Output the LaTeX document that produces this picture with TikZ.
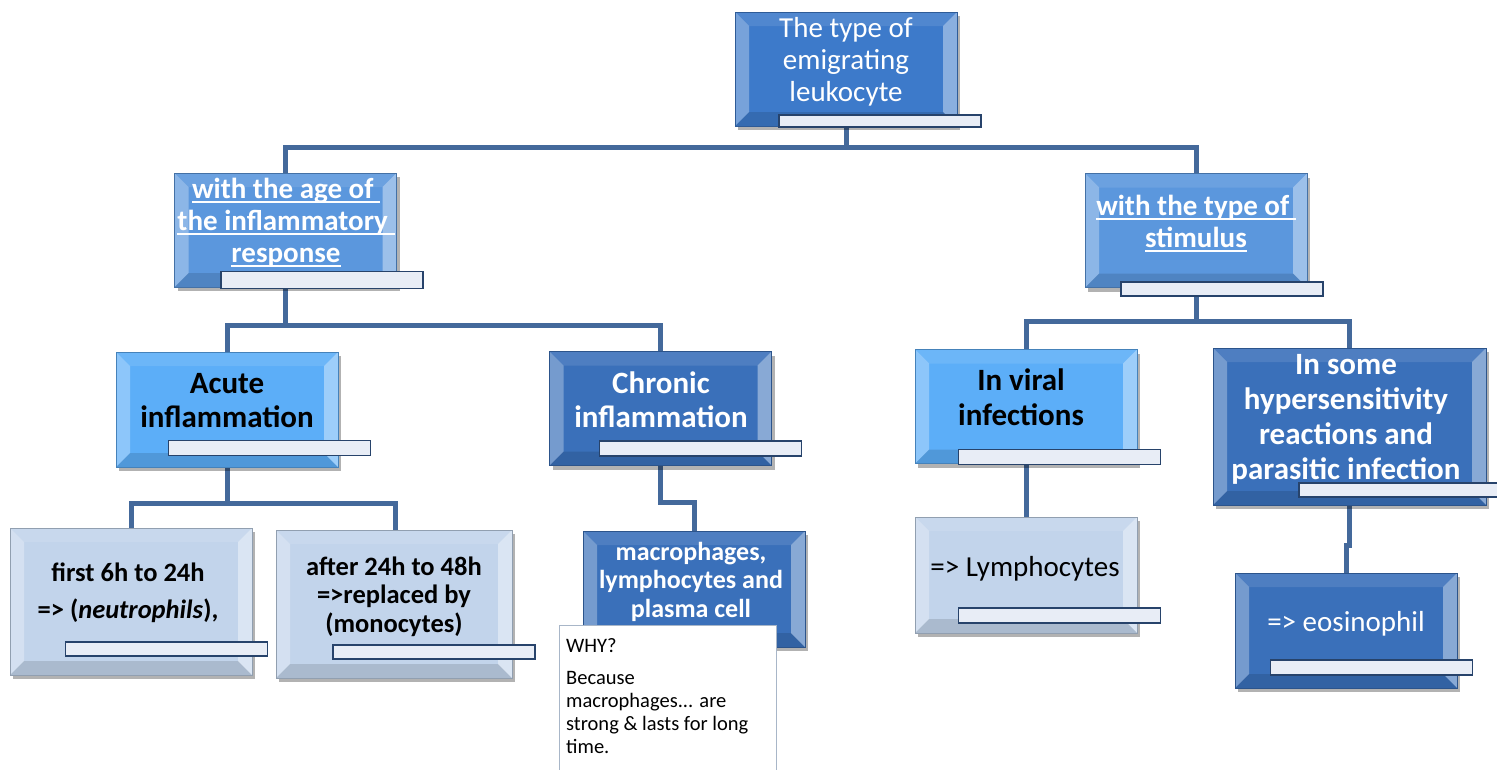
\documentclass[tikz,border=0pt]{standalone}
\usepackage{fontspec}
\setmainfont{Carlito}
\usetikzlibrary{shadows,backgrounds}
\definecolor{cTop}{HTML}{3D7ACA}
\definecolor{cMid}{HTML}{5B97DD}
\definecolor{cLight}{HTML}{5CAEF8}
\definecolor{cDark}{HTML}{3A70BA}
\definecolor{cPale}{HTML}{C2D4EB}
\definecolor{cLine}{HTML}{44699B}
\definecolor{cBarEdge}{HTML}{27436B}
\definecolor{cBar}{HTML}{E8EDF6}
\definecolor{cWhyEdge}{HTML}{A8B6C8}
\newcommand{\ulin}[1]{\setbox0=\hbox{#1}\rlap{\rule[-5pt]{\wd0}{2pt}}\box0}
\tikzset{
  bevel/.style={path picture={
    \path (path picture bounding box.south west) coordinate (bvA)
          (path picture bounding box.north east) coordinate (bvC);
    \path (bvA) ++(14pt,14pt) coordinate (bva);
    \path (bvC) ++(-14pt,-14pt) coordinate (bvc);
    \fill[white,opacity=0.3] (bvA) -- (bva) -- (bva|-bvc) -- (bvA|-bvC) -- cycle;
    \fill[white,opacity=0.4] (bvC) -- (bvc) -- (bvc|-bva) -- (bvC|-bvA) -- cycle;
    \fill[white,opacity=0.1] (bvA|-bvC) -- (bva|-bvc) -- (bvc) -- (bvC) -- cycle;
    \fill[black,opacity=0.12] (bvA) -- (bva) -- (bvc|-bva) -- (bvC|-bvA) -- cycle;
  }},
  box/.style={rectangle, inner sep=0pt, minimum width=222pt, minimum height=114pt,
    fill=#1, draw=#1!75!black, line width=0.6pt, bevel,
    drop shadow={shadow xshift=3pt, shadow yshift=-4pt, opacity=0.3, fill=black}},
  bar/.style={rectangle, inner sep=0pt, minimum width=202pt, minimum height=14pt,
    fill=cBar, draw=cBarEdge, line width=1.3pt},
  conn/.style={draw=cLine, line width=5pt},
  txt/.style={align=center, inner sep=0pt, anchor=base},
  wtxt/.style={txt, text=white},
  btxt/.style={txt, text=black},
}
\begin{document}
\begin{tikzpicture}[x=1pt, y=-1pt]
\useasboundingbox (0,0) rectangle (1497,769);
% boxes
\path
  node[box=cTop] (top) at (846,69) {}
  node[box=cMid] (age) at (285.5,230) {}
  node[box=cMid] (stim) at (1196,230.5) {}
  node[box=cLight, minimum height=115pt] (acute) at (227,409.5) {}
  node[box=cDark] (chronic) at (660.5,408.5) {}
  node[box=cLight] (viral) at (1026,406.5) {}
  node[box=cDark, minimum width=273pt, minimum height=157pt] (hyper) at (1349.5,426.5) {}
  node[box=cPale, minimum width=242pt, minimum height=147pt] (first) at (131,601.5) {}
  node[box=cPale, minimum width=236pt, minimum height=148pt] (after) at (394,604) {}
  node[box=cDark, minimum height=116pt] (macro) at (694,589) {}
  node[box=cPale, minimum height=116pt] (lymph) at (1026,575) {}
  node[box=cDark, minimum height=115pt] (eos) at (1346,630.5) {};
% connectors
\begin{scope}[on background layer]
\draw[conn] (top.south) -- ++(0,21) -| (age.north);
\draw[conn] (top.south) -- ++(0,21) -| (stim.north);
\draw[conn] (age.south) -- ++(0,38) -| (acute.north);
\draw[conn] (age.south) -- ++(0,38) -| (chronic.north);
\draw[conn] (acute.south) -- ++(0,36) -| (first.north);
\draw[conn] (acute.south) -- ++(0,36) -| ([xshift=1pt]after.north);
\draw[conn] (chronic.south) -- ++(0,37) -| (macro.north);
\draw[conn] (stim.south) -- ++(0,34) -| (viral.north);
\draw[conn] (stim.south) -- ++(0,34) -| (hyper.north);
\draw[conn] (viral.south) -- (lymph.north);
\draw[conn] (hyper.south) -- ++(0,40) -| (eos.north);
\end{scope}
% bars
\node[bar, minimum height=12pt] (topbar) at (880,121) {};
\node[bar, minimum height=17pt] (agebar) at (322,280) {};
\node[bar] (stimbar) at (1222,289) {};
\node[bar, minimum height=15pt] (acutebar) at (269.5,448) {};
\node[bar, minimum height=15pt] (chronbar) at (700.5,448.5) {};
\node[bar, minimum height=15pt] (viralbar) at (1059.5,457) {};
\node[bar] (hyperbar) at (1400,490) {};
\node[bar] (firstbar) at (166.5,649) {};
\node[bar] (afterbar) at (434,652) {};
\node[bar, minimum height=15pt] (lymphbar) at (1059.5,615.5) {};
\node[bar, minimum height=15pt] (eosbar) at (1371.5,667.5) {};
% texts (anchor = baseline of last line)
\node[wtxt, font=\fontsize{29}{32}\selectfont] (toptxt) at (846,101)
  {The type of\\emigrating\\leukocyte};
\node[wtxt, font=\fontsize{29}{32}\selectfont\bfseries] (agetxt) at (286,262)
  {\ulin{with the age of }\\\ulin{the inflammatory }\\\ulin{response}};
\node[wtxt, font=\fontsize{29}{32}\selectfont\bfseries] (stimtxt) at (1196,247)
  {\ulin{with the type of }\\\ulin{stimulus}};
\node[btxt, font=\fontsize{31}{34}\selectfont\bfseries] (acutetxt) at (227,427)
  {Acute\\inflammation};
\node[wtxt, font=\fontsize{31}{34}\selectfont\bfseries] (chrontxt) at (661,427)
  {Chronic\\inflammation};
\node[btxt, font=\fontsize{31}{34.5}\selectfont\bfseries] (viraltxt) at (1021,425)
  {In viral\\infections};
\node[wtxt, font=\fontsize{31}{34.7}\selectfont\bfseries] (hypertxt) at (1346,479)
  {In some\\hypersensitivity\\reactions and\\parasitic infection};
\node[btxt, font=\fontsize{26.5}{37}\selectfont\bfseries] (firsttxt) at (128,618)
  {first 6h to 24h\\=> (\textit{neutrophils}),};
\node[btxt, font=\fontsize{26.5}{28.5}\selectfont\bfseries] (aftertxt) at (394,632)
  {after 24h to 48h\\=>replaced by\\(monocytes)};
\node[wtxt, font=\fontsize{26}{28.5}\selectfont\bfseries] (macrotxt) at (691,617)
  {macrophages,\\lymphocytes and\\plasma cell};
\node[btxt, font=\fontsize{29}{32}\selectfont] (lymphtxt) at (1025,576)
  {=> Lymphocytes};
\node[wtxt, font=\fontsize{29}{32}\selectfont] (eostxt) at (1346,631)
  {=> eosinophil};
% WHY box
\node[rectangle, fill=white, draw=cWhyEdge, line width=1.2pt, minimum width=217pt,
  minimum height=160pt, anchor=north west, inner sep=0pt] (why) at (559,625) {};
\node[align=left, inner sep=0pt, anchor=base west, font=\fontsize{20.5}{23}\selectfont]
  (whytxt) at (566,753)
  {WHY?\\[9pt]Because\\macrophages... are\\strong \& lasts for long\\time.};
\end{tikzpicture}
\end{document}
